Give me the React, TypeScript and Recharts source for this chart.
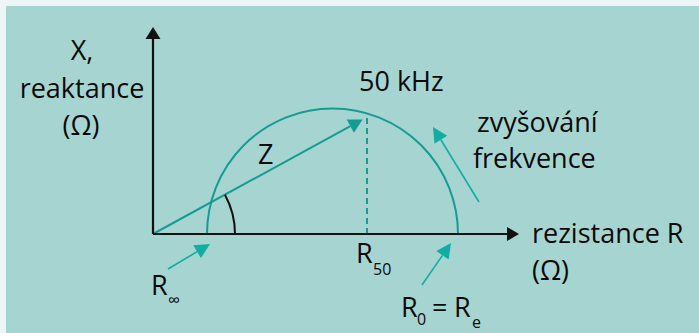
import {
  ComposedChart,
  Customized,
  ReferenceArea,
  ReferenceLine,
  XAxis,
  YAxis,
} from "recharts";

// Cole plot, values in chart units (R to the right, X upwards)
const pointNames = ["R∞", "R50", "R0"];
const resistance = [54, 214, 305];
const reactance = [0, 117, 0];
const axisMax = [366, 207]; // R axis, X axis

const TEAL = "#159c92";
const TEAL_LIGHT = "#12ada2";
const FONT = "'Open Sans', sans-serif";

function arrowShape(
  color: string,
  width: number,
  head: number,
  half: number,
  back = 0,
  angleArc = 0
) {
  return (p: any) => {
    const { x1, y1, x2, y2 } = p;
    const dx = x2 - x1;
    const dy = y2 - y1;
    const len = Math.hypot(dx, dy);
    const ux = dx / len;
    const uy = dy / len;
    const tx = x2 - ux * back;
    const ty = y2 - uy * back;
    const bx = tx - ux * head;
    const by = ty - uy * head;
    const px = -uy;
    const py = ux;
    const a = Math.atan2(-dy, dx);
    return (
      <g>
        <line x1={x1} y1={y1} x2={bx} y2={by} stroke={color} strokeWidth={width} />
        <polygon
          points={`${tx},${ty} ${bx + px * half},${by + py * half} ${bx - px * half},${by - py * half}`}
          fill={color}
        />
        {angleArc > 0 && (
          <path
            d={`M${x1 + angleArc},${y1} A${angleArc},${angleArc} 0 0 0 ${x1 + angleArc * Math.cos(a)},${y1 - angleArc * Math.sin(a)}`}
            fill="none"
            stroke="#111"
            strokeWidth={2}
          />
        )}
      </g>
    );
  };
}

function semicircle(p: any) {
  const { x, y, width, height } = p;
  return (
    <path
      d={`M${x},${y + height} A${width / 2},${height} 0 0 1 ${x + width},${y + height}`}
      fill="none"
      stroke={TEAL}
      strokeWidth={2}
    />
  );
}

function Texts() {
  const big = { fontFamily: FONT, fontSize: 27, fill: "#0a0a0a" };
  return (
    <g>
      <text {...big} x={82} y={60} textAnchor="middle">X,</text>
      <text {...big} x={82} y={98} textAnchor="middle">reaktance</text>
      <text {...big} x={81} y={135} textAnchor="middle">(Ω)</text>
      <text {...big} x={359} y={91}>50 kHz</text>
      <text {...big} x={258} y={164}>Z</text>
      <text {...big} x={477} y={132}>zvyšování</text>
      <text {...big} x={473} y={168}>frekvence</text>
      <text {...big} x={532} y={243}>rezistance R</text>
      <text {...big} x={532} y={280}>(Ω)</text>
      <text {...big} x={151} y={295}>
        R<tspan x={168} y={306} fontSize={17}>∞</tspan>
      </text>
      <text {...big} x={356} y={263}>
        R<tspan x={373} y={275} fontSize={16}>50</tspan>
      </text>
      <text {...big} x={401} y={317}>
        R<tspan x={417} y={325} fontSize={16}>0</tspan>
        <tspan x={432} y={317}>=</tspan>
        <tspan x={454} y={317}>R</tspan>
        <tspan x={472} y={328} fontSize={16}>e</tspan>
      </text>
    </g>
  );
}

export default function App() {
  const [rInf, r50, r0] = resistance;
  const x50 = reactance[1];
  return (
    <div
      style={{
        position: "absolute",
        left: 0,
        top: 0,
        width: 699,
        height: 333,
        background: "#eef6f5",
      }}
    >
      <div
        style={{
          position: "absolute",
          left: 6,
          top: 6,
          width: 693,
          height: 327,
          background: "#a6d5d1",
        }}
      />
      <div style={{ position: "absolute", left: 0, top: 0 }}>
        <ComposedChart
          width={699}
          height={333}
          margin={{ top: 27, right: 699 - 153 - axisMax[0], bottom: 99, left: 153 }}
        >
          <XAxis type="number" dataKey="r" domain={[0, axisMax[0]]} allowDataOverflow hide />
          <YAxis type="number" dataKey="x" domain={[0, axisMax[1]]} allowDataOverflow hide />
          <ReferenceArea
            x1={rInf}
            x2={r0}
            y1={0}
            y2={(r0 - rInf) / 2}
            ifOverflow="visible"
            shape={semicircle}
          />
          <ReferenceLine
            segment={[{ x: r50, y: 0 }, { x: r50, y: x50 }]}
            ifOverflow="visible"
            stroke={TEAL}
            strokeWidth={2}
            strokeDasharray="6 4"
          />
          <ReferenceLine
            segment={[{ x: 0, y: 0 }, { x: r50, y: x50 }]}
            ifOverflow="visible"
            shape={arrowShape(TEAL, 2, 14, 7.5, 5, 82)}
          />
          <ReferenceLine
            segment={[{ x: 0, y: 0 }, { x: axisMax[0], y: 0 }]}
            ifOverflow="visible"
            shape={arrowShape("#111", 2.2, 12, 7)}
          />
          <ReferenceLine
            segment={[{ x: 0, y: 0 }, { x: 0, y: axisMax[1] }]}
            ifOverflow="visible"
            shape={arrowShape("#111", 2.2, 12, 7.5)}
          />
          {/* annotation arrows */}
          <ReferenceLine
            segment={[{ x: rInf - 39, y: -35 }, { x: rInf + 3, y: -10 }]}
            ifOverflow="visible"
            shape={arrowShape(TEAL_LIGHT, 1.6, 15, 7.5)}
          />
          <ReferenceLine
            segment={[{ x: r0 - 36, y: -51 }, { x: r0 - 7, y: -9 }]}
            ifOverflow="visible"
            shape={arrowShape(TEAL_LIGHT, 1.6, 15, 7.5)}
          />
          <ReferenceLine
            segment={[{ x: r0 + 21, y: 32 }, { x: r0 - 25, y: 107 }]}
            ifOverflow="visible"
            shape={arrowShape(TEAL_LIGHT, 1.6, 15, 7.5)}
          />
          <Customized component={<Texts />} />
        </ComposedChart>
      </div>
      <span style={{ display: "none" }}>{pointNames.join(",")}</span>
    </div>
  );
}
